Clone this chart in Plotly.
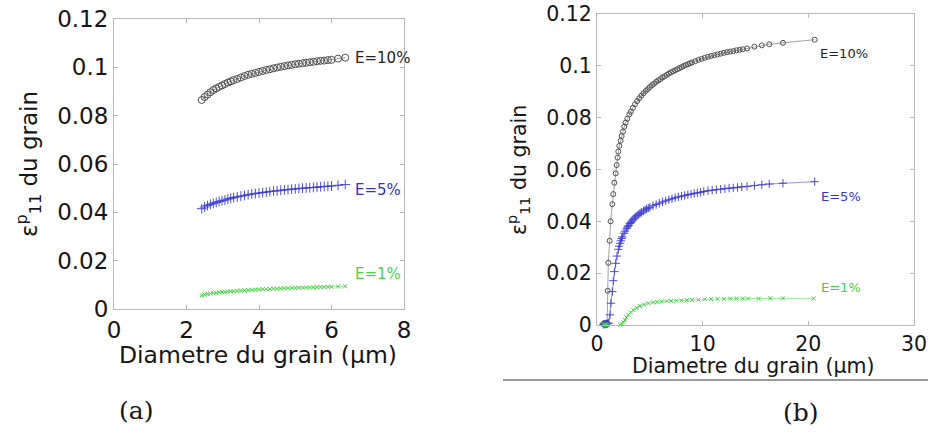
import plotly.graph_objects as go

# ---------------- Data: panel (a) ----------------
a_x = [2.42, 2.5, 2.58, 2.66, 2.74, 2.82, 2.9, 2.98, 3.06, 3.14, 3.22, 3.3, 3.4, 3.5,
       3.6, 3.7, 3.8, 3.9, 4.0, 4.1, 4.2, 4.3, 4.4, 4.5, 4.6, 4.7, 4.8, 4.9, 5.0, 5.1,
       5.2, 5.3, 5.4, 5.5, 5.6, 5.7, 5.8, 5.9, 6.0, 6.18, 6.38]
a_e10 = [.0865, .0877, .0887, .0897, .0906, .0913, .0919, .0925, .0931, .0937, .0942,
         .0947, .0952, .0958, .0964, .0969, .0973, .0977, .0981, .0985, .0989, .0992,
         .0996, .0999, .1002, .1005, .1008, .1010, .1013, .1015, .1017, .1019, .1021,
         .1023, .1025, .1027, .1028, .1030, .1031, .1036, .1040]
a_e5 = [.0415, .0422, .0428, .0433, .0437, .0441, .0445, .0448, .0451, .0455, .0458,
        .0461, .0464, .0467, .0470, .0473, .0476, .0478, .0480, .0482, .0484, .0486,
        .0488, .0489, .0491, .0493, .0494, .0496, .0497, .0498, .0500, .0501, .0502,
        .0503, .0504, .0506, .0507, .0508, .0509, .0512, .0515]
a_e1 = [.0057, .0060, .0062, .0064, .0066, .0067, .0069, .0070, .0071, .0072, .0073,
        .0074, .0075, .0076, .0077, .0078, .0079, .0080, .0081, .0082, .0082, .0083,
        .0084, .0084, .0085, .0086, .0086, .0087, .0087, .0088, .0088, .0089, .0089,
        .0090, .0090, .0091, .0091, .0092, .0092, .0093, .0094]

# ---------------- Data: panel (b) ----------------
b10_x = [0.58, 0.66, 0.74, 0.82, 0.90, 0.96, 1.01, 1.07, 1.20, 1.29, 1.45, 1.54, 1.64,
         1.77, 1.86, 1.95, 2.02, 2.11, 2.24, 2.33, 2.46, 2.58, 2.71, 2.87, 3.06, 3.2,
         3.4, 3.6, 3.8, 4.0, 4.2, 4.4, 4.6, 4.8, 5.0, 5.2, 5.4, 5.6, 5.8, 6.0, 6.2, 6.4,
         6.6, 6.8, 7.0, 7.2, 7.4, 7.6, 7.8, 8.0, 8.2, 8.4, 8.6, 8.8, 9.0, 9.3, 9.6, 9.9,
         10.2, 10.5, 10.8, 11.1, 11.4, 11.7, 12.0, 12.3, 12.6, 12.9, 13.2, 13.5, 13.8,
         14.2, 14.9, 15.6, 16.3, 17.6, 20.6]
b10_y = [.0004, .0004, .0005, .0005, .0006, .0008, .0132, .0240, .0325, .0400, .0466,
         .0505, .0549, .0585, .0617, .0646, .0669, .0691, .0711, .0729, .0746, .0765,
         .0781, .0796, .0813, .0823, .0838, .0852, .0864, .0875, .0885, .0894, .0903,
         .0910, .0918, .0925, .0931, .0938, .0944, .0949, .0955, .0960, .0965, .0970,
         .0975, .0979, .0983, .0987, .0991, .0995, .0999, .1003, .1006, .1010, .1013,
         .1018, .1023, .1027, .1031, .1035, .1038, .1041, .1044, .1047, .1050, .1053,
         .1055, .1057, .1060, .1062, .1064, .1067, .1074, .1079, .1083, .1089, .1101]

b5_x = [0.6, 0.7, 0.8, 0.9, 1.0, 1.1, 1.23, 1.32, 1.45, 1.54, 1.64, 1.77, 1.89, 2.02,
        2.1, 2.18, 2.25, 2.33, 2.4, 2.55, 2.65, 2.81, 2.9, 3.0, 3.12, 3.2, 3.3, 3.4,
        3.53, 3.65, 3.8, 3.95, 4.07, 4.2, 4.4, 4.55, 4.7, 4.85, 5.0, 5.3, 5.6, 5.9,
        6.2, 6.5, 6.8, 7.1, 7.4, 7.7, 8.0, 8.3, 8.6, 8.9, 9.2, 9.5, 9.8, 10.1, 10.5,
        10.9, 11.3, 11.7, 12.1, 12.5, 12.9, 13.3, 13.7, 14.2, 14.9, 15.6, 16.3, 17.6,
        20.6]
b5_y = [.0003, .0003, .0004, .0004, .0005, .0008, .0039, .0084, .0129, .0171, .0206,
        .0238, .0266, .0292, .0304, .0315, .0325, .0334, .0340, .0354, .0362, .0373,
        .0379, .0384, .0392, .0396, .0401, .0406, .0412, .0417, .0422, .0427, .0431,
        .0435, .0440, .0444, .0448, .0451, .0454, .0460, .0465, .0470, .0475, .0479,
        .0483, .0487, .0491, .0494, .0497, .0500, .0503, .0505, .0508, .0510, .0512,
        .0515, .0518, .0520, .0522, .0524, .0526, .0528, .0529, .0531, .0533, .0535,
        .0538, .0541, .0544, .0547, .0553]

b1_x = [0.6, 0.7, 0.8, 0.9, 1.0, 1.2, 1.4, 1.6, 1.8, 2.0, 2.2, 2.33, 2.5, 2.65, 2.8,
        2.96, 3.2, 3.44, 3.75, 4.07, 4.45, 4.86, 5.3, 5.7, 6.12, 6.6, 7.0, 7.5, 8.0,
        8.5, 9.0, 9.6, 10.2, 10.8, 11.4, 12.0, 12.6, 13.2, 13.8, 14.3, 15.3, 16.4,
        17.6, 20.5]
b1_y = [.0002, .0002, .0002, .0001, .0, -.0002, -.0003, -.0003, -.0003, -.0002, .0,
        .0004, .0011, .0019, .0029, .0039, .0049, .0058, .0066, .0073, .0079, .0084,
        .0087, .0089, .0091, .0092, .0093, .0094, .0095, .0096, .0097, .0098, .0099,
        .0100, .0101, .0101, .0102, .0102, .0102, .0102, .0102, .0103, .0103, .0103]

y_ticks = [0, 0.02, 0.04, 0.06, 0.08, 0.1, 0.12]
y_ticktext = ["0", "0.02", "0.04", "0.06", "0.08", "0.1", "0.12"]
a_xticks = [0, 2, 4, 6, 8]
b_xticks = [0, 10, 20, 30]

x_title = "Diametre du grain (μm)"
y_title = "ε<sup>p</sup><sub>11</sub> du grain"
labels = ["E=10%", "E=5%", "E=1%"]

# ---------------- Styles ----------------
W, H = 928, 440
C10, C5, C1 = "#505050", "#3b3bd0", "#3fd63f"
L10, L5, L1 = "#8a8a8a", "#7a7ae0", "#80e680"
FONT = "DejaVu Sans, Verdana, sans-serif"
TXT = "#151515"

def px(xp):
    return xp / W

def py(yp):
    return 1 - yp / H

fig = go.Figure()

def add_series(x, y, xa, ya, sym, size, col, lcol, lw):
    fig.add_trace(go.Scatter(
        x=x, y=y, xaxis=xa, yaxis=ya, mode="lines+markers",
        line=dict(color=lcol, width=0.8),
        marker=dict(symbol=sym, size=size, color=col, line=dict(color=col, width=lw)),
        cliponaxis=False, showlegend=False, hoverinfo="skip"))

add_series(a_x, a_e10, "x", "y", "circle-open", 7, C10, L10, 1)
add_series(a_x, a_e5, "x", "y", "cross-thin-open", 7, C5, L5, 0.9)
add_series(a_x, a_e1, "x", "y", "x-thin-open", 4, C1, L1, 1)

add_series(b10_x, b10_y, "x2", "y2", "circle-open", 5, C10, L10, 1)
add_series(b5_x, b5_y, "x2", "y2", "cross-thin-open", 6, C5, L5, 0.9)
add_series(b1_x, b1_y, "x2", "y2", "x-thin-open", 4, C1, L1, 1)

def axis(domain, rng, tickvals, anchor, size, ticktext=None):
    d = dict(domain=domain, range=rng, tickvals=tickvals, anchor=anchor,
             showgrid=False, zeroline=False, showline=True, linecolor="#b8b8b8",
             linewidth=1, mirror="ticks", ticks="inside", ticklen=4,
             tickcolor="#b8b8b8", automargin=False,
             tickfont=dict(family=FONT, size=size, color=TXT))
    if ticktext is not None:
        d["ticktext"] = ticktext
    return d

fig.update_layout(
    width=W, height=H, margin=dict(l=0, r=0, t=0, b=0),
    paper_bgcolor="white", plot_bgcolor="white",
    xaxis=axis([px(114), px(404)], [0, 8], a_xticks, "y", 23),
    yaxis=axis([py(309), py(19)], [0, 0.12], y_ticks, "x", 23, y_ticktext),
    xaxis2=axis([px(597), px(914)], [0, 30], b_xticks, "y2", 20.5),
    yaxis2=axis([py(325), py(14)], [0, 0.12], y_ticks, "x2", 20.5, y_ticktext),
)
fig.update_xaxes(ticklabeloverflow="allow")

ann = []
def text(xp, yp, s, size, color=TXT, family=FONT, xanchor="center", angle=0):
    ann.append(dict(x=px(xp), y=py(yp), xref="paper", yref="paper", text=s,
                    showarrow=False, xanchor=xanchor, yanchor="middle", textangle=angle,
                    font=dict(family=family, size=size, color=color)))

# axis titles
text(258, 355, x_title, 23.5)
text(28, 164, y_title, 23, angle=-90)
text(753, 366, x_title, 20.5)
text(518, 170, y_title, 20.5, angle=-90)

# curve labels
text(353, 58, labels[0], 15, "#222222", xanchor="left")
text(353, 190, labels[1], 15, "#3434c8", xanchor="left")
text(353, 274, labels[2], 15, "#45d645", xanchor="left")
text(818, 53, labels[0], 13, "#222222", xanchor="left")
text(819, 196, labels[1], 13, "#3434c8", xanchor="left")
text(819, 287, labels[2], 13, "#3fd03f", xanchor="left")

# panel letters
SERIF = "DejaVu Serif, Liberation Serif, serif"
text(136, 410, "(a)", 25, TXT, family=SERIF)
text(801, 412, "(b)", 25, TXT, family=SERIF)

fig.update_layout(annotations=ann)

fig.add_shape(type="line", xref="paper", yref="paper", x0=px(503), x1=1.0,
              y0=py(380), y1=py(380), line=dict(color="#7a7a7a", width=1.5))

fig.write_html("out.html", config={"displayModeBar": False},
               post_script="document.body.style.margin='0px';"
                           "document.body.style.overflow='hidden';")
